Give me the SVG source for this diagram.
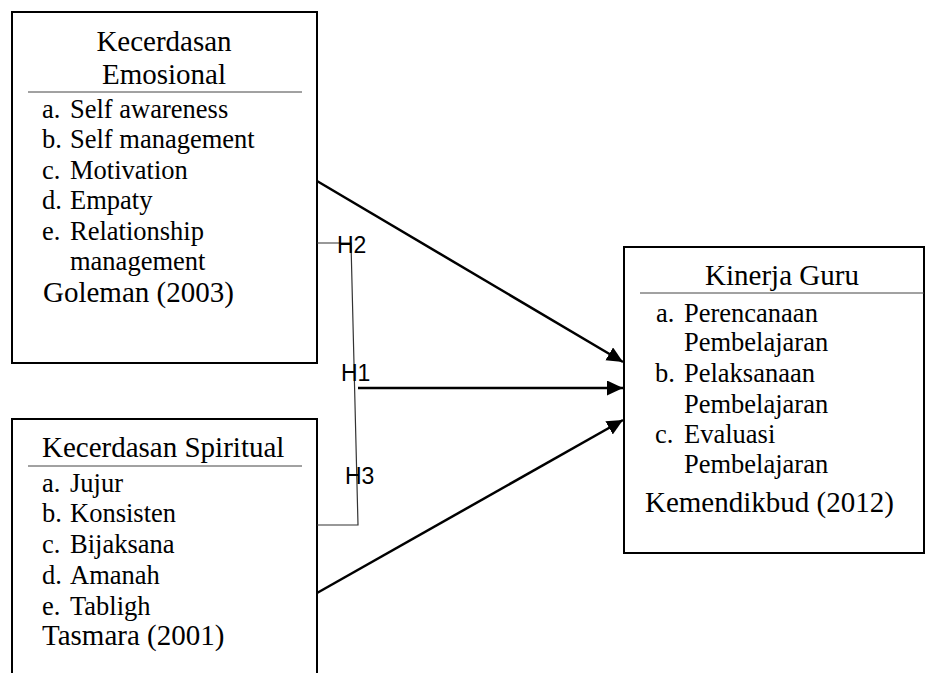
<svg xmlns="http://www.w3.org/2000/svg" width="927" height="673" viewBox="0 0 927 673">
<defs>
<style>
.box{fill:#fff;stroke:#000;stroke-width:2}
.div{stroke:#444;stroke-width:1}
.t{font-family:"Liberation Serif","Times New Roman",serif;font-size:26.5px;fill:#000}
.ti{font-family:"Liberation Serif","Times New Roman",serif;font-size:29px;fill:#000}
.h{font-family:"Liberation Sans",Arial,sans-serif;font-size:23px;fill:#000}
.arr{stroke:#000;stroke-width:2.5;fill:none;marker-end:url(#ah)}
.thin{stroke:#333;stroke-width:1.2;fill:none}
</style>
<marker id="ah" markerUnits="userSpaceOnUse" markerWidth="17" markerHeight="16" refX="16" refY="7.5" orient="auto">
<path d="M0,0 L16,7.5 L0,15 z" fill="#000"/>
</marker>
</defs>
<rect width="927" height="673" fill="#fff"/>
<g id="emosional">
<rect class="box" x="12" y="12" width="305" height="351"/>
<text class="ti" x="164" y="51" text-anchor="middle">Kecerdasan</text>
<text class="ti" x="164" y="84" text-anchor="middle">Emosional</text>
<line class="div" x1="28" y1="92" x2="302" y2="92"/>
<text class="t" x="42" y="118">a.</text><text class="t" x="70" y="118">Self awareness</text>
<text class="t" x="42" y="148">b.</text><text class="t" x="70" y="148">Self management</text>
<text class="t" x="42" y="179">c.</text><text class="t" x="70" y="179">Motivation</text>
<text class="t" x="42" y="209">d.</text><text class="t" x="70" y="209">Empaty</text>
<text class="t" x="42" y="240">e.</text><text class="t" x="70" y="240">Relationship</text>
<text class="t" x="70" y="270">management</text>
<text class="ti" x="43" y="302">Goleman (2003)</text>
</g>
<g id="spiritual">
<path class="box" d="M12,673 L12,419 L317,419 L317,673"/>
<text class="ti" x="42" y="457">Kecerdasan Spiritual</text>
<line class="div" x1="28" y1="466" x2="302" y2="466"/>
<text class="t" x="42" y="492">a.</text><text class="t" x="70" y="492">Jujur</text>
<text class="t" x="42" y="522">b.</text><text class="t" x="70" y="522">Konsisten</text>
<text class="t" x="42" y="553">c.</text><text class="t" x="70" y="553">Bijaksana</text>
<text class="t" x="42" y="584">d.</text><text class="t" x="70" y="584">Amanah</text>
<text class="t" x="42" y="615">e.</text><text class="t" x="70" y="615">Tabligh</text>
<text class="ti" x="42" y="645">Tasmara (2001)</text>
</g>
<g id="kinerja">
<rect class="box" x="624" y="247" width="300" height="306"/>
<text class="ti" x="782" y="285" text-anchor="middle">Kinerja Guru</text>
<line class="div" x1="640" y1="293" x2="924" y2="293"/>
<text class="t" x="656" y="322">a.</text><text class="t" x="684" y="322">Perencanaan</text>
<text class="t" x="684" y="351">Pembelajaran</text>
<text class="t" x="655" y="382">b.</text><text class="t" x="684" y="382">Pelaksanaan</text>
<text class="t" x="684" y="413">Pembelajaran</text>
<text class="t" x="655" y="443">c.</text><text class="t" x="684" y="443">Evaluasi</text>
<text class="t" x="684" y="473">Pembelajaran</text>
<text class="ti" x="645" y="512">Kemendikbud (2012)</text>
</g>
<g id="connectors">
<line class="arr" x1="317" y1="181" x2="623" y2="362"/>
<line class="arr" x1="358" y1="388" x2="623" y2="388"/>
<line class="arr" x1="317" y1="593" x2="623" y2="420"/>
<path class="thin" d="M317,243 L351,243 L358,525 L317,525"/>
</g>
<g id="labels">
<text class="h" x="337" y="253">H2</text>
<text class="h" x="341" y="381">H1</text>
<text class="h" x="345" y="484">H3</text>
</g>
</svg>
